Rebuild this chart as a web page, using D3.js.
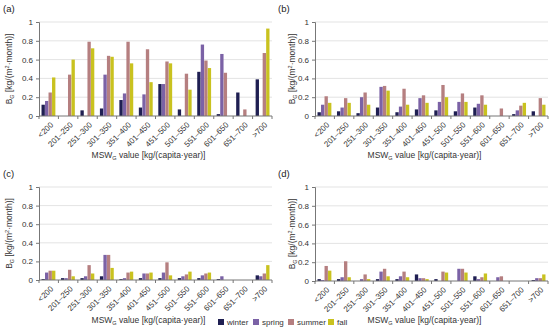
<!DOCTYPE html>
<html>
<head>
<script src="https://d3js.org/d3.v7.min.js"></script>
<style>
  body { margin: 0; background: #fff; }
  svg { font-family: "Liberation Sans", Arial, sans-serif; }
</style>
</head>
<body>
<div id="chart"></div>
<script>
// categories and seasons
var categories = ["<200", "201\u2013250", "251\u2013300", "301\u2013350", "351\u2013400", "401\u2013450",
                  "451\u2013500", "501\u2013550", "551\u2013600", "601\u2013650", "651\u2013700", ">700"];
var seasons = ["winter", "spring", "summer", "fall"];
var seasonColors = ["#1f1f52", "#7b62a6", "#b57f80", "#c9c21f"];
var yTicks = [0, 0.2, 0.4, 0.6, 0.8, 1];

// values per panel, one array per season (same order as categories)
var aWinter = [0.12, 0, 0.06, 0.08, 0.17, 0.09, 0.34, 0.07, 0.47, 0.02, 0.25, 0.39];
var aSpring = [0.16, 0, 0, 0.44, 0.24, 0.23, 0.34, 0, 0.76, 0.66, 0, 0];
var aSummer = [0.25, 0.44, 0.79, 0.64, 0.79, 0.71, 0.58, 0.45, 0.59, 0.46, 0.07, 0.67];
var aFall   = [0.41, 0.60, 0.72, 0.63, 0.56, 0.36, 0.56, 0.28, 0.51, 0, 0, 0.93];

var bWinter = [0.04, 0.05, 0.03, 0.09, 0.04, 0.07, 0.06, 0.05, 0.09, 0, 0.02, 0.05];
var bSpring = [0.12, 0.09, 0.20, 0.31, 0.10, 0.19, 0.15, 0.15, 0.13, 0, 0.06, 0];
var bSummer = [0.21, 0.19, 0.25, 0.32, 0.29, 0.22, 0.33, 0.24, 0.22, 0.08, 0.11, 0.19];
var bFall   = [0.14, 0.14, 0.12, 0.27, 0.12, 0.14, 0.20, 0.15, 0.12, 0, 0.14, 0.12];

var cWinter = [0.01, 0.02, 0.02, 0.04, 0.01, 0.02, 0.02, 0.02, 0.02, 0.01, 0, 0.05];
var cSpring = [0.08, 0.02, 0.04, 0.27, 0.02, 0.07, 0.08, 0.04, 0.05, 0.04, 0, 0.04];
var cSummer = [0.10, 0.11, 0.16, 0.27, 0.08, 0.07, 0.19, 0.06, 0.07, 0, 0, 0.07];
var cFall   = [0.10, 0.04, 0.07, 0.13, 0.09, 0.08, 0.05, 0.09, 0.08, 0, 0, 0.16];

var dWinter = [0.02, 0.02, 0, 0.02, 0.02, 0.07, 0.02, 0, 0.05, 0, 0, 0.01];
var dSpring = [0.01, 0.04, 0.02, 0.10, 0.05, 0.03, 0, 0.13, 0.02, 0.04, 0, 0.03];
var dSummer = [0.16, 0.21, 0.07, 0.13, 0.10, 0.03, 0.10, 0.13, 0.04, 0.05, 0, 0.03];
var dFall   = [0.11, 0.04, 0.02, 0.05, 0.04, 0.02, 0.09, 0.09, 0.08, 0, 0, 0.07];

var panels = [
  {name: "(a)", series: [aWinter, aSpring, aSummer, aFall], left: 39, right: 272, top: 22, bottom: 116, ox: 0, oy: 0, ylab: 12},
  {name: "(b)", series: [bWinter, bSpring, bSummer, bFall], left: 315, right: 548, top: 22, bottom: 116, ox: 275, oy: 0, ylab: 295},
  {name: "(c)", series: [cWinter, cSpring, cSummer, cFall], left: 39, right: 272, top: 187, bottom: 280, ox: 0, oy: 165, ylab: 12},
  {name: "(d)", series: [dWinter, dSpring, dSummer, dFall], left: 315, right: 548, top: 187, bottom: 281, ox: 275, oy: 165, ylab: 295}
];

var svg = d3.select("#chart").append("svg")
  .attr("width", 550)
  .attr("height", 330);

panels.forEach(function(p) {
  var x = d3.scaleBand().domain(categories).range([p.left, p.right]).paddingInner(0.27).paddingOuter(0.12);
  var xs = d3.scaleBand().domain(seasons).range([0, x.bandwidth()]).padding(0.05);
  var y = d3.scaleLinear().domain([0, 1]).range([p.bottom, p.top]);
  var g = svg.append("g");

  // panel letter
  g.append("text")
    .attr("x", p.ox + 3)
    .attr("y", p.oy + 12)
    .attr("font-size", 9.5)
    .attr("fill", "#222")
    .text(p.name);

  // gridlines
  g.selectAll(".grid")
    .data(yTicks.filter(function(d) { return d > 0; }))
    .enter().append("line")
    .attr("x1", p.left).attr("x2", p.right)
    .attr("y1", function(d) { return y(d); })
    .attr("y2", function(d) { return y(d); })
    .attr("stroke", "#dcdcdc")
    .attr("stroke-width", 0.8);

  // y axis
  var yAxis = g.append("g")
    .attr("transform", "translate(" + p.left + ",0)")
    .call(d3.axisLeft(y).tickValues(yTicks).tickSize(3).tickPadding(3)
      .tickFormat(function(d) { return d === 0 ? "0" : d === 1 ? "1" : d3.format(".1f")(d); }));
  yAxis.select(".domain").attr("stroke", "#777");
  yAxis.selectAll(".tick line").attr("stroke", "#777");
  yAxis.selectAll("text").attr("font-size", 8).attr("fill", "#333");

  // bars
  p.series.forEach(function(vals, si) {
    g.selectAll(".bar" + si)
      .data(vals)
      .enter().append("rect")
      .attr("x", function(d, i) { return x(categories[i]) + xs(seasons[si]); })
      .attr("y", function(d) { return y(d); })
      .attr("width", xs.bandwidth())
      .attr("height", function(d) { return p.bottom - y(d); })
      .attr("fill", seasonColors[si]);
  });

  // x axis: baseline + boundary ticks
  var step = (p.right - p.left) / categories.length;
  g.append("line")
    .attr("x1", p.left).attr("x2", p.right)
    .attr("y1", p.bottom).attr("y2", p.bottom)
    .attr("stroke", "#777");
  g.selectAll(".xt")
    .data(d3.range(categories.length + 1))
    .enter().append("line")
    .attr("x1", function(i) { return p.left + i * step; })
    .attr("x2", function(i) { return p.left + i * step; })
    .attr("y1", p.bottom).attr("y2", p.bottom + 3)
    .attr("stroke", "#777");

  g.selectAll(".xl")
    .data(categories)
    .enter().append("text")
    .attr("transform", function(d) {
      return "translate(" + (x(d) + x.bandwidth() / 2 + 2) + "," + (p.bottom + 6) + ") rotate(-45)";
    })
    .attr("text-anchor", "end")
    .attr("dy", "0.6em")
    .attr("font-size", 8)
    .attr("fill", "#333")
    .text(function(d) { return d; });

  // x title
  var xt = g.append("text")
    .attr("x", (p.left + p.right) / 2 - 7)
    .attr("y", p.oy + 158)
    .attr("text-anchor", "middle")
    .attr("font-size", 8.5)
    .attr("fill", "#333");
  xt.append("tspan").text("MSW");
  xt.append("tspan").attr("font-size", 5.5).attr("dy", 2).text("G");
  xt.append("tspan").attr("dy", -2).text(" value [kg/(capita\u00b7year)]");

  // y title
  var yt = g.append("text")
    .attr("transform", "translate(" + p.ylab + "," + ((p.top + p.bottom) / 2) + ") rotate(-90)")
    .attr("text-anchor", "middle")
    .attr("font-size", 8.5)
    .attr("fill", "#333");
  yt.append("tspan").text("B");
  yt.append("tspan").attr("font-size", 5.5).attr("dy", 2).text("G");
  yt.append("tspan").attr("dy", -2).text(" [kg/(m");
  yt.append("tspan").attr("font-size", 5.5).attr("dy", -3).text("2");
  yt.append("tspan").attr("dy", 3).text("\u00b7month)]");
});

// legend
var legendX = [218, 253, 288, 328];
var legend = svg.append("g");
seasons.forEach(function(s, i) {
  legend.append("rect")
    .attr("x", legendX[i]).attr("y", 319)
    .attr("width", 6).attr("height", 6)
    .attr("fill", seasonColors[i]);
  legend.append("text")
    .attr("x", legendX[i] + 9).attr("y", 325)
    .attr("font-size", 8)
    .attr("fill", "#333")
    .text(s);
});
</script>
</body>
</html>
